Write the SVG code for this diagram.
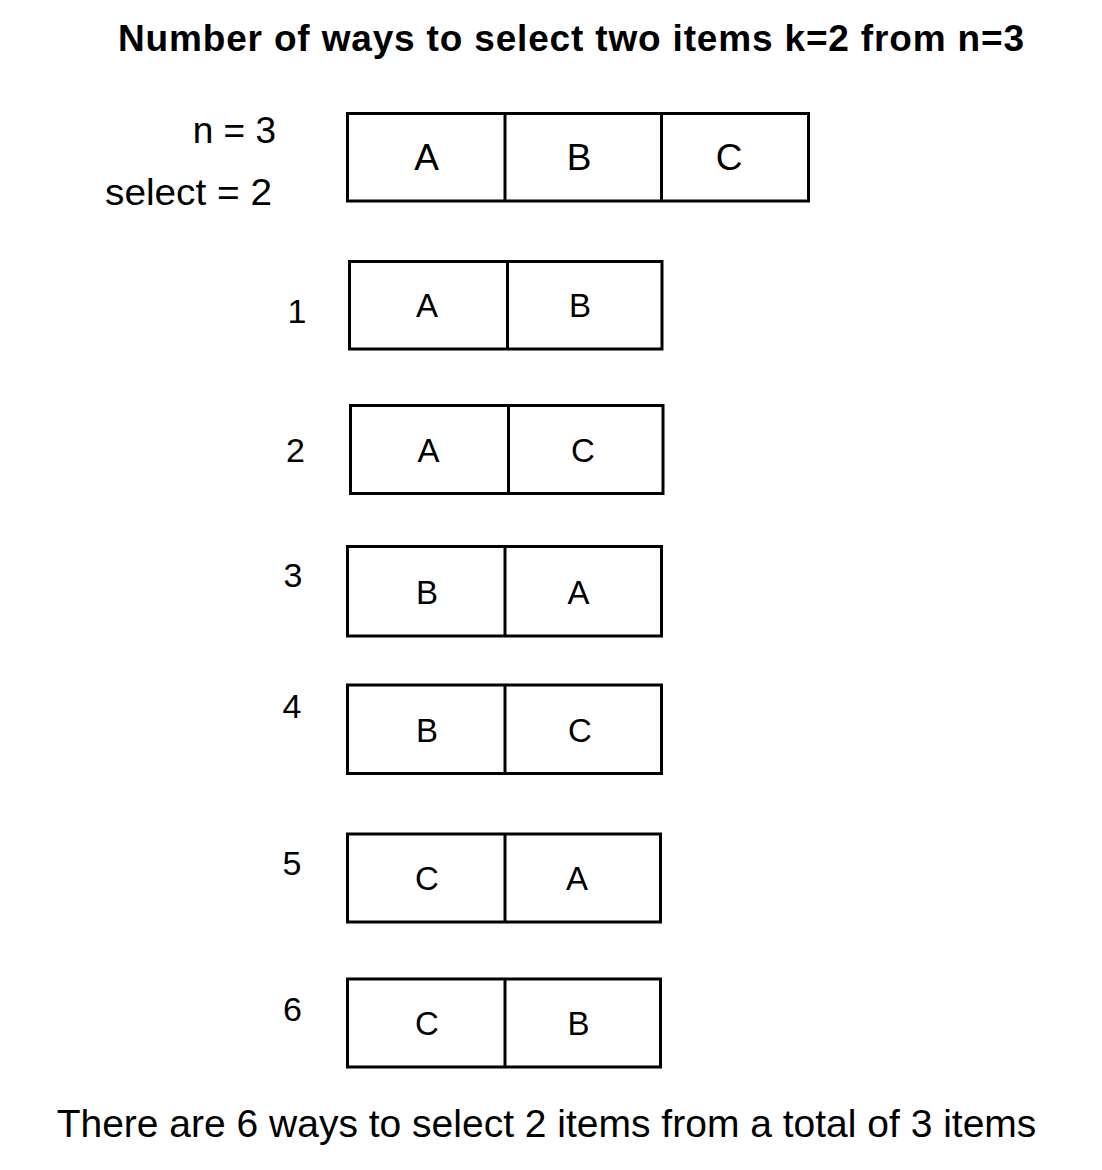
<svg xmlns="http://www.w3.org/2000/svg" width="1102" height="1170" viewBox="0 0 1102 1170">
  <style>
    text { font-family: "Liberation Sans", Arial, sans-serif; fill: #000; }
    .title { font-size: 37px; font-weight: bold; text-anchor: middle; }
    .foot { font-size: 39px; text-anchor: middle; }
    .lbl { font-size: 37px; text-anchor: end; }
    .num { font-size: 34px; text-anchor: middle; }
    .big { font-size: 37px; text-anchor: middle; }
    .cell { font-size: 33px; text-anchor: middle; }
    .box { fill: #fff; stroke: #000; stroke-width: 3; }
    .div { stroke: #000; stroke-width: 3; }
  </style>
  <rect x="0" y="0" width="1102" height="1170" fill="#fff"/>

  <text class="title" x="571" y="51" textLength="906" lengthAdjust="spacing">Number of ways to select two items k=2 from n=3</text>

  <g id="source">
    <text class="lbl" x="276" y="143">n = 3</text>
    <text class="lbl" x="272" y="205" textLength="167" lengthAdjust="spacingAndGlyphs">select = 2</text>
    <rect class="box" x="347.5" y="113.5" width="461" height="87.5"/>
    <line class="div" x1="505" y1="113.5" x2="505" y2="201"/>
    <line class="div" x1="661.5" y1="113.5" x2="661.5" y2="201"/>
    <text class="big" x="426.5" y="170">A</text>
    <text class="big" x="579" y="170">B</text>
    <text class="big" x="729" y="170">C</text>
  </g>

  <g id="way1">
    <text class="num" x="297" y="323">1</text>
    <rect class="box" x="349.5" y="261.5" width="312.5" height="87.5"/>
    <line class="div" x1="507.5" y1="261.5" x2="507.5" y2="349"/>
    <text class="cell" x="427" y="317">A</text>
    <text class="cell" x="580" y="317">B</text>
  </g>

  <g id="way2">
    <text class="num" x="295.5" y="462">2</text>
    <rect class="box" x="350.5" y="405.5" width="312.5" height="88"/>
    <line class="div" x1="508.5" y1="405.5" x2="508.5" y2="493.5"/>
    <text class="cell" x="428.5" y="462">A</text>
    <text class="cell" x="583" y="462">C</text>
  </g>

  <g id="way3">
    <text class="num" x="293" y="587">3</text>
    <rect class="box" x="347.5" y="546.5" width="314" height="89.5"/>
    <line class="div" x1="505" y1="546.5" x2="505" y2="636"/>
    <text class="cell" x="427" y="604">B</text>
    <text class="cell" x="578.5" y="604">A</text>
  </g>

  <g id="way4">
    <text class="num" x="292" y="718">4</text>
    <rect class="box" x="347.5" y="685" width="314" height="88.5"/>
    <line class="div" x1="505" y1="685" x2="505" y2="773.5"/>
    <text class="cell" x="427" y="742">B</text>
    <text class="cell" x="580" y="742">C</text>
  </g>

  <g id="way5">
    <text class="num" x="292" y="875">5</text>
    <rect class="box" x="347.5" y="834" width="313" height="88"/>
    <line class="div" x1="505" y1="834" x2="505" y2="922"/>
    <text class="cell" x="427" y="890">C</text>
    <text class="cell" x="577" y="890">A</text>
  </g>

  <g id="way6">
    <text class="num" x="292.5" y="1021">6</text>
    <rect class="box" x="347.5" y="979" width="313" height="88"/>
    <line class="div" x1="505" y1="979" x2="505" y2="1067"/>
    <text class="cell" x="427" y="1035">C</text>
    <text class="cell" x="578.5" y="1035">B</text>
  </g>

  <g id="connectors"></g>

  <text class="foot" x="546.5" y="1137">There are 6 ways to select 2 items from a total of 3 items</text>
</svg>
